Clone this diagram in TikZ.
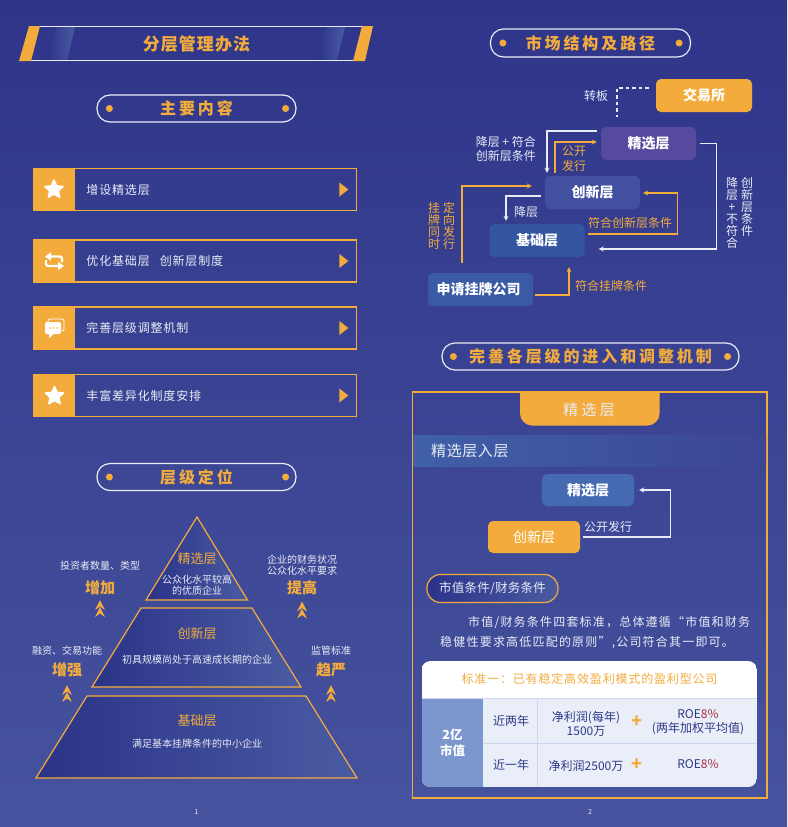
\documentclass[tikz,border=0pt]{standalone}
\usepackage{fontspec}
\setmainfont{Noto Sans CJK SC}
\usepackage{xcolor}
\usetikzlibrary{shapes,arrows,positioning,calc,arrows.meta}
\definecolor{bgtop}{HTML}{2F3589}
\definecolor{bgbot}{HTML}{46539E}
\definecolor{gold}{HTML}{F3AC3C}
\definecolor{pale}{HTML}{E9ECF6}
\definecolor{navy}{HTML}{2E3A87}
\definecolor{rosso}{HTML}{A52A45}
\definecolor{darkpyr}{HTML}{2B3388}
\definecolor{lightpyr}{HTML}{4A5BA2}
\definecolor{rule}{HTML}{CDD6EE}
\definecolor{selfill}{HTML}{554A9E}
\definecolor{innfill}{HTML}{41509F}
\definecolor{basfill}{HTML}{34559F}
\definecolor{appfill}{HTML}{3A5AA5}
\definecolor{selbfill}{HTML}{456AB2}
\definecolor{bandfill}{HTML}{4060A8}
\definecolor{tablefill}{HTML}{EAEEF8}
\definecolor{capfill}{HTML}{7C97CE}
\tikzset{
  txt/.style={inner sep=0pt, text=pale, align=center, font=\fontsize{#1}{14}\selectfont},
  txt/.default=10,
  goldtxt/.style={inner sep=0pt, text=gold, align=center, font=\fontsize{#1}{15}\selectfont},
  goldtxt/.default=12,
  bigword/.style={inner sep=0pt, text=gold, font=\fontsize{15}{15}\selectfont\bfseries},
  pill/.style={draw=pale, line width=1.2pt, rounded corners=13pt, minimum height=27pt, inner sep=0pt,
    text=gold, font=\fontsize{16}{16}\selectfont\bfseries\addfontfeature{LetterSpace=18}},
  itembox/.style={draw=gold, line width=1.1pt, minimum width=323pt, minimum height=42pt, inner sep=0pt},
  itemtxt/.style={inner sep=0pt, anchor=west, text=pale, font=\fontsize{12}{12}\selectfont\addfontfeature{LetterSpace=7}},
  level/.style={rounded corners=5pt, minimum width=95pt, minimum height=33pt, inner sep=0pt,
    text=white, font=\fontsize{14}{14}\selectfont\bfseries},
  wline/.style={->, >=stealth, pale, line width=1.2pt},
  gline/.style={->, >=stealth, gold, line width=1.2pt},
  pyr/.style={draw=gold, line width=1.2pt, left color=darkpyr, right color=lightpyr},
  vtext/.style={inner sep=0pt, align=center, font=\fontsize{12}{12}\selectfont},
  cell/.style={inner sep=0pt, text=navy, align=center, font=\fontsize{12}{14}\selectfont},
  goldstar/.style={star, star points=5, star point ratio=2.1, fill=white, draw=white, line join=round, line width=1.5pt, minimum size=19pt, inner sep=0pt},
}
\begin{document}
\begin{tikzpicture}[x=1pt, y=-1pt]
    \useasboundingbox (0,0) rectangle (787,827);
    \shade [top color=bgtop, bottom color=bgbot] (0,0) rectangle (787,827);

    % left page, banner
    \shade [left color=darkpyr, right color=lightpyr] (47,60) -- (67,60) -- (75,27) -- (56,27) -- cycle;
    \shade [left color=darkpyr, right color=lightpyr] (317,60) -- (337,60) -- (345,27) -- (325,27) -- cycle;
    \draw [pale, line width=1.1pt] (40,26.5) -- (362,26.5);
    \draw [pale, line width=1.1pt] (31,60.5) -- (353,60.5);
    \fill [gold] (19,61) -- (31,61) -- (40,26) -- (29,26) -- cycle;
    \fill [gold] (353,61) -- (365,61) -- (373,26) -- (362,26) -- cycle;
    \node [inner sep=0pt, text=gold, font=\fontsize{17}{17}\selectfont\bfseries\addfontfeature{LetterSpace=6}] (title) at (196.5,44) {分层管理办法};

    \node [pill, minimum width=199pt] (main) at (196.5,108.5) {主要内容};
    \fill [gold] ([xshift=13pt]main.west) circle (3.5pt);
    \fill [gold] ([xshift=-11pt]main.east) circle (3.5pt);

    % list of items
    \foreach \name/\yy/\label in {a/189.5/增设精选层, b/261/优化基础层\hspace*{10pt}创新层制度, c/328/完善层级调整机制, d/395.5/丰富差异化制度安排} {
        \node [itembox] (item\name) at (195.3,\yy) {};
        \fill [gold] (item\name.north west) rectangle ($(item\name.south west)+(42,0)$);
        \node [itemtxt] at ($(item\name.west)+(53,0)$) {\label};
        \fill [gold] ($(item\name.east)+(-18,-7)$) -- ($(item\name.east)+(-9,0)$) -- ($(item\name.east)+(-18,7)$) -- cycle;
    }
    \node [goldstar] (stara) at (54,189.5) {};
    \node [goldstar] (stard) at (54.5,396) {};
    % swap icon
    \draw [-{Triangle[length=6pt,width=8pt]}, white, line width=2.2pt, rounded corners=2pt] (62,262) -- (62,256.5) -- (45,256.5);
    \draw [-{Triangle[length=6pt,width=8pt]}, white, line width=2.2pt, rounded corners=2pt] (46,260) -- (46,266) -- (64,266);
    % chat icon
    \draw [white, line width=0.8pt, rounded corners=2pt] (48,322) -- (48,319) -- (64,319) -- (64,331) -- (62,331);
    \fill [white, rounded corners=2pt] (45,322) rectangle (61,334);
    \fill [white] (49,333) -- (49,338) -- (55,333) -- cycle;
    \foreach \dx in {50,53.5,57} \fill [gold] (\dx,328) circle (0.9pt);

    \node [pill, minimum width=199pt] (rank) at (196.5,477) {层级定位};
    \fill [gold] ([xshift=13pt]rank.west) circle (3.5pt);
    \fill [gold] ([xshift=-11pt]rank.east) circle (3.5pt);

    % pyramid
    \draw [pyr] (197,517) -- (247.5,600) -- (146,600) -- cycle;
    \draw [pyr] (141,608) -- (252,608) -- (301,687) -- (92,687) -- cycle;
    \draw [pyr] (87,696) -- (306,696) -- (357,778) -- (36,778) -- cycle;
    \node [goldtxt=13] (jxname) at (197,559) {精选层};
    \node [txt=10, font=\fontsize{10}{11.5}\selectfont] (jxtext) at (197,585) {公众化水平较高\\的优质企业};
    \node [goldtxt=13] (cxname) at (197,634) {创新层};
    \node [txt=10] (cxtext) at (197,659.5) {初具规模尚处于高速成长期的企业};
    \node [goldtxt=13] (jcname) at (197,721) {基础层};
    \node [txt=10] (jctext) at (197,744) {满足基本挂牌条件的中小企业};

    \node [txt=10] (inv) at (100,565.5) {投资者数量、类型};
    \node [bigword] (inc) at (100,588) {增加};
    \node [txt=10, font=\fontsize{10}{11.5}\selectfont] (fin) at (302,565) {企业的财务状况\\公众化水平要求};
    \node [bigword] (rise) at (302,588) {提高};
    \node [txt=10] (fund) at (67,651) {融资、交易功能};
    \node [bigword] (str) at (67,670) {增强};
    \node [txt=10] (sup) at (331,650.5) {监管标准};
    \node [bigword] (tight) at (331,670) {趋严};
    \foreach \cx/\cy in {100/600, 302/601.5, 67/685, 331/685} {
        \foreach \k in {0,7}
            \fill [gold] (\cx,\cy+\k) -- (\cx+5,\cy+\k+10) -- (\cx,\cy+\k+6.5) -- (\cx-5,\cy+\k+10) -- cycle;
    }
    \node [inner sep=0pt, text=pale, font=\fontsize{7}{7}\selectfont] (pageone) at (196.5,812) {1};

    % right page, market structure
    \node [pill, minimum width=200pt, minimum height=28pt] (market) at (590.5,43) {市场结构及路径};
    \fill [gold] ([xshift=13pt]market.west) circle (3.5pt);
    \fill [gold] ([xshift=-12pt]market.east) circle (3.5pt);

    \node [level, fill=gold, minimum width=96pt] (exch) at (704,95.5) {交易所};
    \node [level, fill=selfill] (sel) at (648.5,143.5) {精选层};
    \node [level, fill=innfill] (inn) at (592.5,192.5) {创新层};
    \node [level, fill=basfill] (bas) at (537,240.5) {基础层};
    \node [level, fill=appfill, minimum width=105pt] (app) at (480.5,289.5) {申请挂牌公司\hspace*{4pt}};

    \coordinate (turnb) at (617,117);
    \draw [pale, dash pattern=on 3.5pt off 3pt, line width=1.1pt] ([yshift=7.5pt,xshift=-7pt]exch.west) -| (turnb);
    \draw [wline] ([yshift=12.5pt,xshift=-4pt]sel.west) -| ([xshift=-45.5pt,yshift=3pt]inn.north);
    \draw [gline] ([xshift=-37.5pt,yshift=3pt]inn.north) |- ([yshift=1.5pt,xshift=-4pt]sel.west);
    \draw [wline] ([xshift=4pt]sel.east) -- ++(16,0) |- ([yshift=-8.5pt,xshift=14pt]bas.east);
    \draw [gline] ([yshift=6.5pt,xshift=3pt]bas.east) -| ([xshift=37pt,yshift=-0.5pt]inn.east) -- ([xshift=3pt,yshift=-0.5pt]inn.east);
    \draw [wline] ([yshift=-3.5pt,xshift=-4pt]inn.west) -| ([xshift=-31pt,yshift=3pt]bas.north);
    \draw [gline] ([xshift=-18.5pt,yshift=10pt]app.north) |- ([yshift=6.5pt,xshift=-13pt]inn.west);
    \draw [gline] ([yshift=-5.5pt,xshift=2pt]app.east) -| ([xshift=32pt,yshift=-10pt]bas.south);

    \node [txt=12] (ztxt) at (596,96) {转板};
    \node [txt=12, align=right, anchor=east] (ctxt) at (536,149) {降层 + 符合\\创新层条件};
    \node [goldtxt=12] (gtxt) at (574,158.5) {公开\\发行};
    \node [txt=12] (dtxt) at (526,211.5) {降层};
    \node [goldtxt=12] (ftxt) at (630,223) {符合创新层条件};
    \node [goldtxt=12] (gptxt) at (611,286) {符合挂牌条件};
    \node [vtext, text=gold] (vone) at (434,226) {挂\\牌\\同\\时};
    \node [vtext, text=gold] (vtwo) at (449,226) {定\\向\\发\\行};
    \node [vtext, text=pale] (vthree) at (732,213) {降\\层\\+\\不\\符\\合};
    \node [vtext, text=pale] (vfour) at (747,207) {创\\新\\层\\条\\件};

    % right page, admission
    \node [pill, minimum width=297pt] (adm) at (590.5,356.5) {完善各层级的进入和调整机制};
    \fill [gold] ([xshift=12pt]adm.west) circle (3.5pt);
    \fill [gold] ([xshift=-12pt]adm.east) circle (3.5pt);

    \draw [gold, line width=1.2pt] (412.5,392) rectangle (767,798);
    \begin{scope}
        \clip (412,392) rectangle (767,430);
        \fill [gold, rounded corners=12pt] (520,375) rectangle (659.5,425.5);
    \end{scope}
    \node [inner sep=0pt, text=pale, font=\fontsize{15}{15}\selectfont\addfontfeature{LetterSpace=22}] (tab) at (589,410) {精选层};
    \shade [left color=bandfill, right color=bgtop!45!bgbot] (413.5,435) rectangle (766,466);
    \node [inner sep=0pt, anchor=west, text=pale, font=\fontsize{15}{15}\selectfont\addfontfeature{LetterSpace=4}] (band) at (431,451) {精选层入层};

    \node [level, fill=selbfill, minimum width=92pt, minimum height=32pt] (selb) at (588,490) {精选层};
    \node [level, fill=gold, minimum width=92pt, minimum height=32pt, font=\fontsize{14}{14}\selectfont] (innb) at (534,537) {创新层};
    \draw [wline] ([xshift=3pt]innb.east) -| ([xshift=36pt]selb.east) -- ([xshift=5pt]selb.east);
    \node [txt=12] (pub) at (608,527) {公开发行};

    \node [draw=gold, line width=1.2pt, rounded corners=13.5pt, left color=darkpyr, right color=lightpyr, minimum width=131pt, minimum height=28pt, inner sep=0pt, text=pale, font=\fontsize{12.5}{12.5}\selectfont\addfontfeature{LetterSpace=2}] (cond) at (492.5,588.5) {市值条件/财务条件};
    \node [inner sep=0pt, anchor=north west, align=left, text=pale, font=\fontsize{12}{20}\selectfont\addfontfeature{LetterSpace=10}] (para) at (440,616) {\hspace*{28pt}市值/财务条件四套标准，总体遵循“市值和财务\\稳健性要求高低匹配的原则”,公司符合其一即可。};

    % card with table
    \begin{scope}
        \clip [rounded corners=9pt] (421.5,661) rectangle (757,787);
        \fill [white] (421.5,661) rectangle (757,698);
        \fill [tablefill] (421.5,698) rectangle (757,787);
        \fill [capfill] (421.5,698) rectangle (483,787);
        \draw [rule, line width=1pt] (421.5,698) -- (757,698);
        \draw [rule, line width=1pt] (483,743.5) -- (757,743.5);
        \draw [rule, line width=1pt] (537,698) -- (537,787);
    \end{scope}
    \node [inner sep=0pt, text=gold, font=\fontsize{12}{12}\selectfont\addfontfeature{LetterSpace=7}] (std) at (589.5,679) {标准一：已有稳定高效盈利模式的盈利型公司};
    \node [inner sep=0pt, text=white, align=center, font=\fontsize{12.5}{16}\selectfont\bfseries] (cap) at (452.5,743) {2亿\\市值};
    \node [cell] (yrb) at (511,721) {近两年};
    \node [cell] (yra) at (511,765) {近一年};
    \node [cell] (npb) at (586,723.5) {净利润(每年)\\1500万};
    \node [cell] (npa) at (586,765.5) {净利润2500万};
    \node [inner sep=0pt, text=gold, font=\fontsize{18}{18}\selectfont\bfseries] (plb) at (637,722) {+};
    \node [inner sep=0pt, text=gold, font=\fontsize{18}{18}\selectfont\bfseries] (pla) at (637,765) {+};
    \node [cell] (roeb) at (698,722.5) {ROE\textcolor{rosso}{8\%}\\(两年加权平均值)};
    \node [cell] (roea) at (698,764.5) {ROE\textcolor{rosso}{8\%}};
    \node [inner sep=0pt, text=pale, font=\fontsize{7}{7}\selectfont] (pagetwo) at (590,812) {2};
\end{tikzpicture}
\end{document}
